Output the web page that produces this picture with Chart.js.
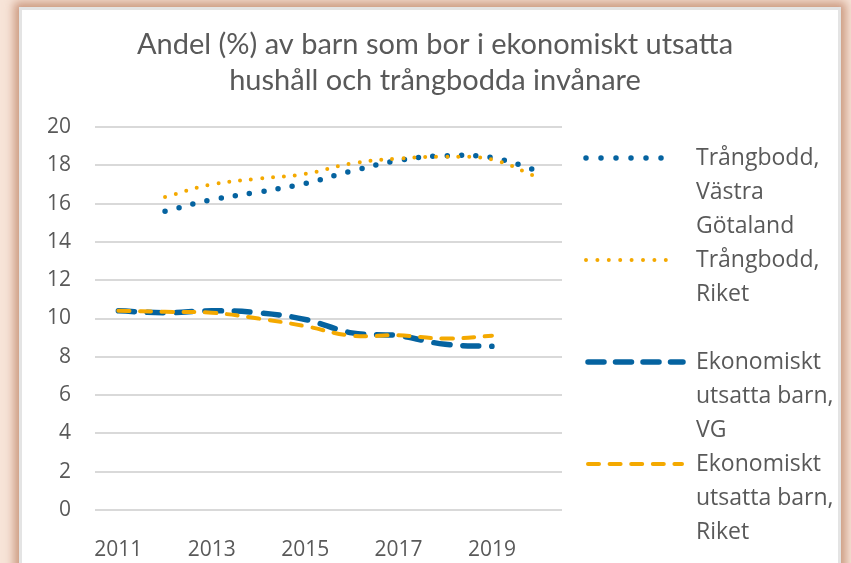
<!DOCTYPE html>
<html lang="sv">
<head>
<meta charset="utf-8">
<title>Andel (%) av barn som bor i ekonomiskt utsatta hushåll och trångbodda invånare</title>
<script src="https://cdn.jsdelivr.net/npm/chart.js@4/dist/chart.umd.min.js"></script>
<style>
    html, body { margin: 0; padding: 0; }
    body {
        width: 851px; height: 563px; overflow: hidden;
        background: #f7e4d8;
        position: relative;
    }
    #panel {
        position: absolute; left: 19px; top: 7px;
        width: 816px; height: 600px;
        background: #fff;
        border: 3px solid #e4e4e4;
        box-shadow: 0 0 9px 5px rgba(190, 130, 100, 0.75);
    }
    #chart { display: block; }
</style>
</head>
<body>
<div id="panel"><canvas id="chart" width="816" height="553"></canvas></div>
<script>
// Data (smoothed Excel lines, yearly points)
const years = ['2011', '2012', '2013', '2014', '2015', '2016', '2017', '2018', '2019', '2020'];
const trangboddVG    = [null, 15.6, 16.2, 16.6, 17.05, 17.7, 18.25, 18.5, 18.4, 17.7];
const trangboddRiket = [null, 16.35, 17.0, 17.3, 17.55, 18.1, 18.35, 18.45, 18.3, 17.35];
const ekonomiskVG    = [10.4, 10.3, 10.4, 10.3, 9.95, 9.25, 9.1, 8.65, 8.55, null];
const ekonomiskRiket = [10.4, 10.35, 10.3, 10.0, 9.6, 9.1, 9.12, 8.95, 9.1, null];
const yTicks = { min: 0, max: 20, step: 2 };
const titleLines = ['Andel (%) av barn som bor i ekonomiskt utsatta', 'hushåll och trångbodda invånare'];

const BLUE = '#0563A0';
const GOLD = '#F4A900';
const TEXT = '#595959';

const series = [
    { label: ['Trångbodd,', 'Västra', 'Götaland'], data: trangboddVG, color: BLUE, width: 5.5, dash: [0, 14.4], legendDash: [0, 15], legendLen: 90 },
    { label: ['Trångbodd,', 'Riket'], data: trangboddRiket, color: GOLD, width: 4, dash: [0, 11], legendDash: [0, 11.4], legendLen: 91 },
    { label: ['Ekonomiskt', 'utsatta barn,', 'VG'], data: ekonomiskVG, color: BLUE, width: 5.5, dash: [16, 13], legendDash: [16, 11.5], legendLen: 97 },
    { label: ['Ekonomiskt', 'utsatta barn,', 'Riket'], data: ekonomiskRiket, color: GOLD, width: 4, dash: [11, 10.7], legendDash: [11, 10.6], legendLen: 96 }
];

// Title centred over the whole panel, as in the Excel original
const panelTitle = {
    id: 'panelTitle',
    afterDraw(chart) {
        const ctx = chart.ctx;
        ctx.save();
        ctx.fillStyle = TEXT;
        ctx.font = '29px Lato';
        ctx.textAlign = 'center';
        ctx.textBaseline = 'alphabetic';
        titleLines.forEach((t, i) => ctx.fillText(t, 413, 44 + i * 36));
        ctx.restore();
    }
};

// Legend drawn on the canvas so labels can wrap like the Excel original
const sideLegend = {
    id: 'sideLegend',
    afterDraw(chart) {
        const ctx = chart.ctx;
        const x0 = 564, textX = 674, top = 148, entryGap = 102, lineGap = 34;
        ctx.save();
        series.forEach((s, i) => {
            const y = top + i * entryGap;
            ctx.beginPath();
            ctx.strokeStyle = s.color;
            ctx.lineWidth = s.width;
            ctx.lineCap = 'round';
            ctx.setLineDash(s.legendDash);
            ctx.moveTo(x0 + (s.dash[0] ? 2 : 0), y);
            ctx.lineTo(x0 + s.legendLen, y);
            ctx.stroke();
            ctx.setLineDash([]);
            ctx.fillStyle = TEXT;
            ctx.font = '23px "Open Sans"';
            ctx.textBaseline = 'middle';
            ctx.textAlign = 'left';
            s.label.forEach((t, j) => ctx.fillText(t, textX, y + j * lineGap));
        });
        ctx.restore();
    }
};

const ctx = document.getElementById('chart').getContext('2d');
new Chart(ctx, {
    type: 'line',
    data: {
        labels: years,
        datasets: series.map((s) => ({
            label: s.label.join(' '),
            data: s.data,
            borderColor: s.color,
            backgroundColor: s.color,
            borderWidth: s.width,
            borderDash: s.dash,
            borderCapStyle: 'round',
            tension: 0.4,
            pointRadius: 0,
            fill: false,
            order: s.color === GOLD ? 0 : 1
        }))
    },
    options: {
        responsive: false,
        devicePixelRatio: 1,
        animation: false,
        layout: { padding: { left: 0, right: 276, top: 117, bottom: 0 } },
        plugins: {
            legend: { display: false },
            tooltip: { enabled: false },
            title: { display: false }
        },
        scales: {
            x: {
                offset: true,
                grid: { display: false },
                border: { display: false },
                ticks: {
                    color: TEXT,
                    font: { family: 'Open Sans', size: 21 },
                    autoSkip: false,
                    maxRotation: 0,
                    padding: 19,
                    callback: (v, i) => (i % 2 === 0 ? years[i] : '')
                },
                afterFit: (scale) => { scale.height = 53; }
            },
            y: {
                min: yTicks.min,
                max: yTicks.max,
                grid: { color: '#d9d9d9', lineWidth: 2, drawTicks: false },
                border: { display: false },
                ticks: {
                    stepSize: yTicks.step,
                    color: TEXT,
                    font: { family: 'Open Sans', size: 21 },
                    padding: 24
                },
                afterFit: (scale) => { scale.width = 73; }
            }
        }
    },
    plugins: [panelTitle, sideLegend]
});
</script>
</body>
</html>
